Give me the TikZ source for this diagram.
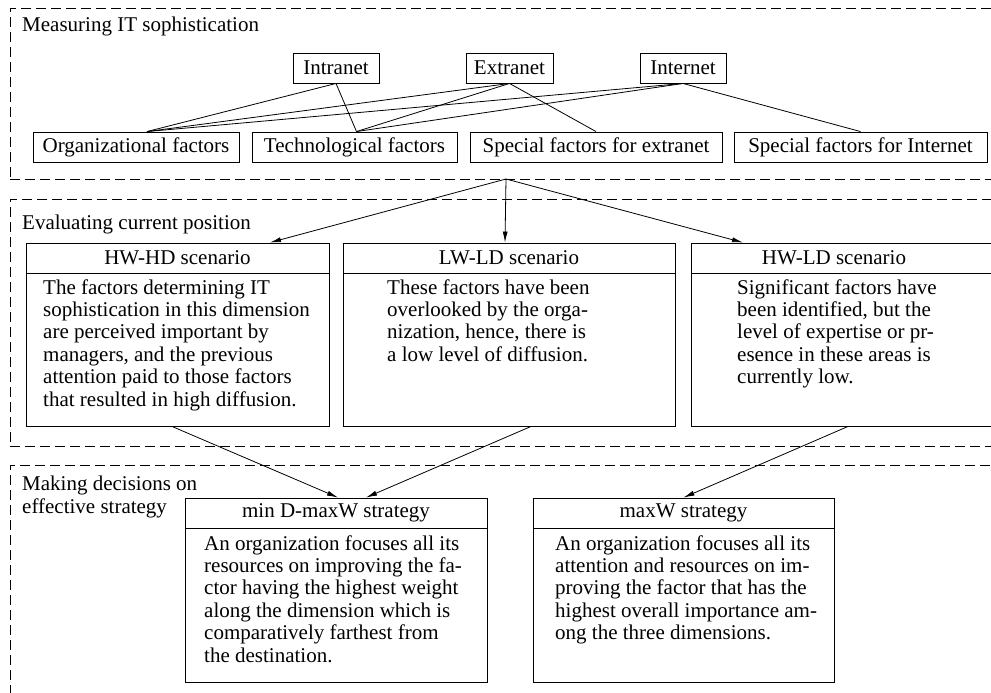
\documentclass[tikz,border=0pt]{standalone}
\usepackage{fontspec}
\setmainfont{Liberation Serif}
\usetikzlibrary{arrows.meta}
\begin{document}
\begin{tikzpicture}[x=1pt,y=-1pt,
  txt/.style={font=\fontsize{21}{22.4}\selectfont},
  frame/.style={draw, dash pattern=on 10pt off 5pt, line width=0.8pt, inner sep=0pt},
  sbox/.style={draw, line width=0.9pt, inner sep=0pt, txt},
  body/.style={txt, anchor=base west, align=left, inner sep=0pt},
  title/.style={txt, anchor=base west, inner sep=0pt},
  conn/.style={line width=0.8pt},
  arr/.style={line width=0.8pt, -{Latex[length=11pt,width=5pt]}}]
\useasboundingbox (0,0) rectangle (991,693);
% frames
\node[frame, minimum width=990pt, minimum height=171pt] (f1) at (505,93.5) {};
\node[frame, minimum width=990pt, minimum height=247pt] (f2) at (505,322.5) {};
\node[frame, minimum width=990pt, minimum height=245pt] (f3) at (505,587.5) {};
\node[title] (t1) at (22,32) {Measuring IT sophistication};
\node[title] (t2) at (22,229) {Evaluating current position};
\node[title, align=left, anchor=base west] (t3) at (22,513) {Making decisions on\\effective strategy};
% top row
\node[sbox, minimum width=86pt, minimum height=30pt] (intra) at (336,68) {Intranet};
\node[sbox, minimum width=87pt, minimum height=30pt] (extra) at (509.5,68) {Extranet};
\node[sbox, minimum width=86pt, minimum height=30pt] (inter) at (683,68) {Internet};
\node[sbox, minimum width=206pt, minimum height=30pt] (org) at (136,147) {Organizational factors};
\node[sbox, minimum width=205pt, minimum height=30pt] (tech) at (354.5,147) {Technological factors};
\node[sbox, minimum width=252pt, minimum height=30pt] (spx) at (596,147) {Special factors for extranet};
\node[sbox, minimum width=253pt, minimum height=30pt] (spi) at (860.5,147) {Special factors for Internet};
\draw[conn] (intra.south) -- ([xshift=11pt]org.north);
\draw[conn] (intra.south) -- ([xshift=2pt]tech.north);
\draw[conn] (extra.south) -- ([xshift=11pt]org.north);
\draw[conn] (extra.south) -- ([xshift=2pt]tech.north);
\draw[conn] (extra.south) -- (spx.north);
\draw[conn] (inter.south) -- ([xshift=11pt]org.north);
\draw[conn] (inter.south) -- ([xshift=2pt]tech.north);
\draw[conn] (inter.south) -- (spi.north);
% scenarios
\node[sbox, minimum width=303pt, minimum height=30pt] (hwhdh) at (177.5,258) {HW-HD scenario};
\node[sbox, minimum width=303pt, minimum height=153pt] (hwhd) at (177.5,349.5) {};
\node[sbox, minimum width=332pt, minimum height=30pt] (lwldh) at (509,258) {LW-LD scenario};
\node[sbox, minimum width=332pt, minimum height=153pt] (lwld) at (509,349.5) {};
\node[sbox, minimum width=304pt, minimum height=30pt] (hwldh) at (843,258) {\hspace*{-18pt}HW-LD scenario};
\node[sbox, minimum width=304pt, minimum height=153pt] (hwld) at (843,349.5) {};
\node[body] (hwhdt) at (43,406) {The factors determining IT\\sophistication in this dimension\\are perceived important by\\managers, and the previous\\attention paid to those factors\\that resulted in high diffusion.};
\node[body] (lwldt) at (387,361.2) {These factors have been\\overlooked by the orga-\\nization, hence, there is\\a low level of diffusion.};
\node[body] (hwldt) at (737,383.6) {Significant factors have\\been identified, but the\\level of expertise or pr-\\esence in these areas is\\currently low.};
\coordinate (src) at (506,179);
\draw[arr] (src) -- ([xshift=92.5pt]hwhdh.north);
\draw[arr] (src) -- ([xshift=-4pt]lwldh.north);
\draw[arr] (src) -- ([xshift=-100pt]hwldh.north);
% strategies
\node[sbox, minimum width=302pt, minimum height=30pt] (mdh) at (336,513) {min D-maxW strategy};
\node[sbox, minimum width=302pt, minimum height=154pt] (md) at (336,605) {};
\node[sbox, minimum width=301pt, minimum height=30pt] (mwh) at (683.5,513) {maxW strategy};
\node[sbox, minimum width=301pt, minimum height=154pt] (mw) at (683.5,605) {};
\node[body] (mdt) at (204,662) {An organization focuses all its\\resources on improving the fa-\\ctor having the highest weight\\along the dimension which is\\comparatively farthest from\\the destination.};
\node[body] (mwt) at (555,639.6) {An organization focuses all its\\attention and resources on im-\\proving the factor that has the\\highest overall importance am-\\ong the three dimensions.};
\draw[arr] ([xshift=-5.5pt]hwhd.south) -- ([xshift=2pt]mdh.north);
\draw[arr] ([xshift=22pt]lwld.south) -- ([xshift=30pt]mdh.north);
\draw[arr] ([xshift=5pt]hwld.south) -- (mwh.north);
\end{tikzpicture}
\end{document}
